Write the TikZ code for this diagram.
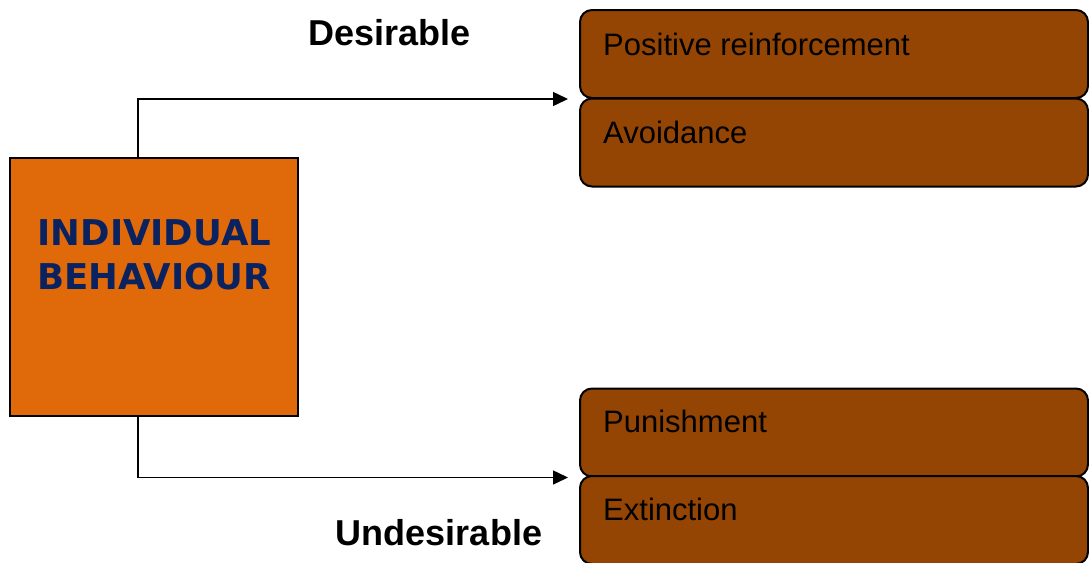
\documentclass[tikz,border=0pt]{standalone}
\usepackage{fontspec}
\setmainfont{Liberation Sans}
\newfontfamily\mainfnt{DejaVu Sans}
\usetikzlibrary{arrows.meta}
\definecolor{orangebox}{RGB}{224,106,10}
\definecolor{brownbox}{RGB}{149,69,3}
\definecolor{navytxt}{RGB}{10,34,96}
\begin{document}
\begin{tikzpicture}[x=1pt,y=-1pt,
  mainbox/.style={draw=black,line width=2pt,fill=orangebox,minimum width=288pt,minimum height=258pt,inner sep=0pt},
  maintext/.style={anchor=base,inner sep=0pt,text=navytxt,font=\mainfnt\bfseries\fontsize{35.5}{40}\selectfont},
  optbox/.style={draw=black,line width=2pt,fill=brownbox,rounded corners=12pt,minimum width=508pt,minimum height=88pt,inner sep=0pt},
  opttext/.style={anchor=base west,inner sep=0pt,text=black,font=\fontsize{31}{36}\selectfont},
  sidelbl/.style={anchor=base,inner sep=0pt,text=black,font=\bfseries\fontsize{36}{40}\selectfont},
  conn/.style={draw=black,line width=1.5pt,-{Triangle[length=15pt,width=14pt]}}]
\useasboundingbox (0,0) rectangle (1089,562);
\fill[white] (0,0) rectangle (1089,562);
% right boxes
\node[optbox] (pr) at (834,54) {};
\node[optbox] (av) at (834,142.5) {};
\node[optbox] (pu) at (834,432.5) {};
\node[optbox] (ex) at (834,520) {};
\node[opttext] (prt) at ([xshift=24pt,yshift=-46pt]pr.north west) {Positive reinforcement};
\node[opttext] (avt) at ([xshift=24pt,yshift=-46pt]av.north west) {Avoidance};
\node[opttext] (put) at ([xshift=24pt,yshift=-45pt]pu.north west) {Punishment};
\node[opttext] (ext) at ([xshift=24pt,yshift=-45pt]ex.north west) {Extinction};
% main box
\node[mainbox] (cb) at (154,287) {};
\node[maintext] (t1) at (154.5,245) {INDIVIDUAL};
\node[maintext] (t2) at (154,289) {BEHAVIOUR};
% side labels
\node[sidelbl] (des) at (389.5,45) {Desirable};
\node[sidelbl] (und) at (439,545) {Undesirable};
% connectors
\coordinate (tipA) at ([xshift=-11pt]pr.south west);
\coordinate (tipB) at ([xshift=-11pt]pu.south west);
\draw[conn] ([xshift=-16pt]cb.north) |- (tipA);
\draw[conn] ([xshift=-16pt]cb.south) |- (tipB);
\end{tikzpicture}
\end{document}
